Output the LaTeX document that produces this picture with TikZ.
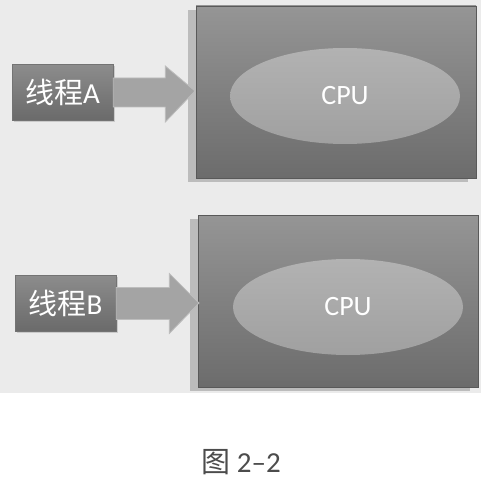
\documentclass[tikz,border=0pt]{standalone}
\usepackage{fontspec}
\setmainfont{Carlito}
\newfontfamily\cjk{Noto Sans CJK SC}
\usetikzlibrary{shapes.geometric,shadows,calc}
\definecolor{bggray}{HTML}{EBEBEB}
\definecolor{boxtop}{HTML}{959595}
\definecolor{boxbot}{HTML}{6C6C6C}
\definecolor{elltop}{HTML}{B2B2B2}
\definecolor{ellbot}{HTML}{A0A0A0}
\definecolor{thrtop}{HTML}{8C8C8C}
\definecolor{thrbot}{HTML}{6A6A6A}
\definecolor{arrfill}{HTML}{A4A4A4}
\definecolor{arrline}{HTML}{BDBDBD}
\tikzset{
  cpubox/.style={draw=black!65, line width=0.8pt, top color=boxtop, bottom color=boxbot,
    minimum width=280pt, minimum height=172pt, inner sep=0pt,
    drop shadow={shadow xshift=-8pt, shadow yshift=-4pt, opacity=0.35, fill=black!60}},
  cpuell/.style={ellipse, top color=elltop, bottom color=ellbot, draw=none,
    minimum width=230pt, minimum height=96pt, text=white, font=\fontsize{28}{30}\selectfont},
  thread/.style={draw=black!55, line width=0.6pt, top color=thrtop, bottom color=thrbot,
    minimum width=101pt, minimum height=56pt, inner sep=0pt, text=white,
    font=\fontsize{29}{31}\selectfont,
    drop shadow={shadow xshift=1.5pt, shadow yshift=-1.5pt, opacity=0.3}},
  fatarrow/.style={fill=arrfill, draw=arrline, line width=0.8pt, line join=miter},
}
\begin{document}
\begin{tikzpicture}[x=1pt,y=-1pt]
\useasboundingbox (0,0) rectangle (481,481);
\fill[white] (0,0) rectangle (481,481);
\fill[bggray] (0,0) rectangle (481,393);
% top
\node[cpubox] (boxA) at (336,92) {};
\node[cpuell] (cpuA) at (345,96) {\raisebox{-3pt}{CPU}};
\node[thread] (thA) at (62.5,92.5) {{\cjk 线程}A};
\coordinate (tipA) at (195,91);
\draw[fatarrow] ($(thA.east)+(0,-14.5)$) -- ++(52,0) -- ++(0,-12) -- (tipA)
  -- ($(thA.east)+(52,29.5)$) -- ++(0,-15) -- ($(thA.east)+(0,14.5)$) -- cycle;
% bottom
\node[cpubox] (boxB) at (338,301) {};
\node[cpuell] (cpuB) at (348,307) {\raisebox{-3pt}{CPU}};
\node[thread] (thB) at (65.5,303.5) {{\cjk 线程}B};
\coordinate (tipB) at (199,303);
\draw[fatarrow] ($(thB.east)+(0,-16)$) -- ++(53,0) -- ++(0,-14) -- (tipB)
  -- ($(thB.east)+(53,30)$) -- ++(0,-14) -- ($(thB.east)+(0,16)$) -- cycle;
% caption
\node[font=\fontsize{29}{31}\selectfont, text=black!70] (cap) at (241,462) {{\cjk 图} 2–2};
\end{tikzpicture}
\end{document}
